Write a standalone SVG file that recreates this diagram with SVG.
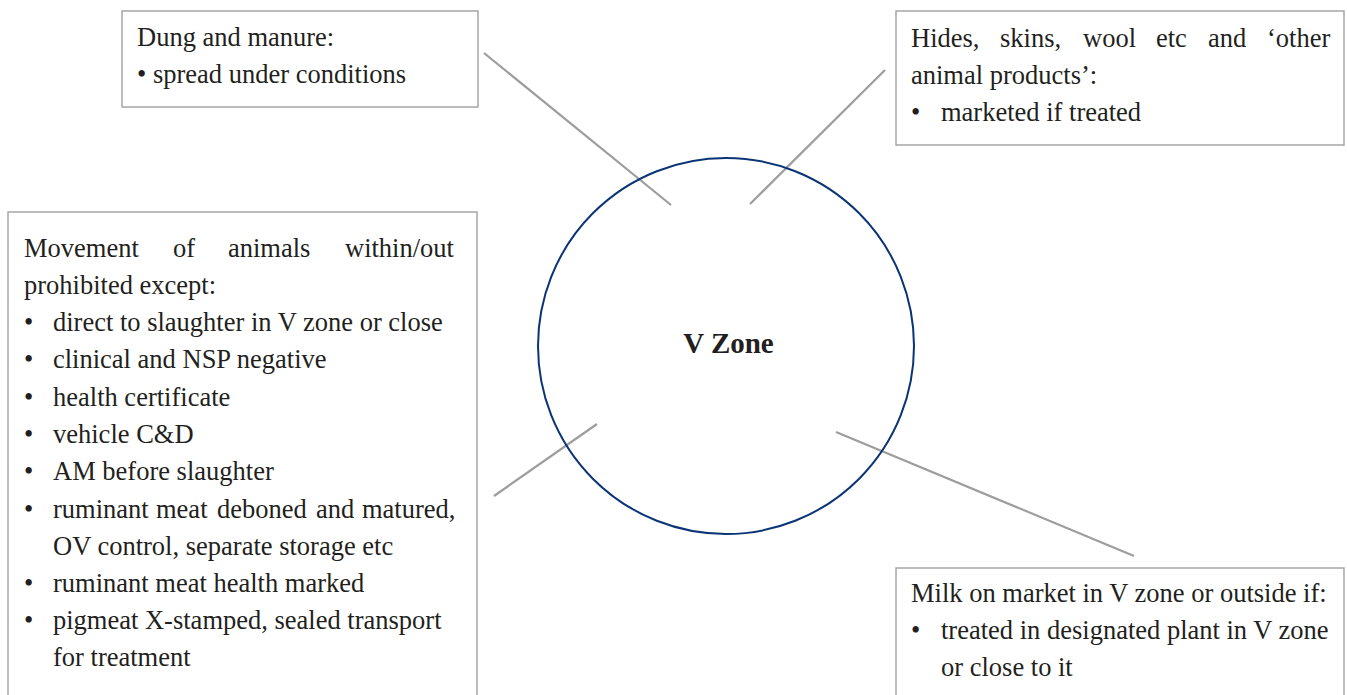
<svg xmlns="http://www.w3.org/2000/svg" width="1347" height="695" viewBox="0 0 1347 695">
<style>
.box{fill:#fff;stroke:#a6a6a6;stroke-width:1.5}
.t{font-family:"Liberation Serif","Times New Roman",serif;font-size:26.5px;fill:#231f20}
.b{font-family:"Liberation Serif","Times New Roman",serif;font-size:29px;font-weight:bold;fill:#231f20}
.c{stroke:#9d9d9d;stroke-width:2.2;fill:none}
</style>
<rect width="1347" height="695" fill="#fff"/>
<g id="connectors">
<line class="c" x1="484" y1="53" x2="671" y2="205"/>
<line class="c" x1="885" y1="70" x2="750" y2="204"/>
<line class="c" x1="597" y1="424" x2="494" y2="496"/>
<line class="c" x1="836" y1="432" x2="1134" y2="556"/>
</g>
<g id="vzone">
<circle cx="726" cy="346" r="188" fill="none" stroke="#0b3476" stroke-width="2"/>
<text class="b" x="728.5" y="353" text-anchor="middle">V Zone</text>
</g>
<g id="dung">
<rect class="box" x="122" y="11" width="356" height="96"/>
<text class="t" x="137" y="46">Dung and manure:</text>
<text class="t" x="137" y="83">• spread under conditions</text>
</g>
<g id="hides">
<rect class="box" x="896" y="11" width="448" height="134"/>
<text class="t" y="47"><tspan x="911">Hides,</tspan><tspan x="1000">skins,</tspan><tspan x="1083">wool</tspan><tspan x="1156">etc</tspan><tspan x="1208">and</tspan><tspan x="1267">‘other</tspan></text>
<text class="t" x="911" y="84">animal products’:</text>
<text class="t" y="121"><tspan x="911">•</tspan><tspan x="941">marketed if treated</tspan></text>
</g>
<g id="movement">
<rect class="box" x="8" y="212" width="469" height="490"/>
<text class="t" y="257"><tspan x="24">Movement</tspan><tspan x="173">of</tspan><tspan x="228">animals</tspan><tspan x="345">within/out</tspan></text>
<text class="t" x="24" y="294">prohibited except:</text>
<text class="t" y="331"><tspan x="24">•</tspan><tspan x="53">direct to slaughter in V zone or close</tspan></text>
<text class="t" y="368"><tspan x="24">•</tspan><tspan x="53">clinical and NSP negative</tspan></text>
<text class="t" y="406"><tspan x="24">•</tspan><tspan x="53">health certificate</tspan></text>
<text class="t" y="443"><tspan x="24">•</tspan><tspan x="53">vehicle C&amp;D</tspan></text>
<text class="t" y="480"><tspan x="24">•</tspan><tspan x="53">AM before slaughter</tspan></text>
<text class="t" y="518"><tspan x="24">•</tspan><tspan x="53">ruminant</tspan><tspan x="156">meat</tspan><tspan x="217">deboned</tspan><tspan x="316">and</tspan><tspan x="362">matured,</tspan></text>
<text class="t" x="53" y="555">OV control, separate storage etc</text>
<text class="t" y="592"><tspan x="24">•</tspan><tspan x="53">ruminant meat health marked</tspan></text>
<text class="t" y="629"><tspan x="24">•</tspan><tspan x="53">pigmeat X-stamped, sealed transport</tspan></text>
<text class="t" x="53" y="666">for treatment</text>
</g>
<g id="milk">
<rect class="box" x="896" y="568" width="448" height="134"/>
<text class="t" x="911" y="602">Milk on market in V zone or outside if:</text>
<text class="t" y="639"><tspan x="911">•</tspan><tspan x="941">treated in designated plant in V zone</tspan></text>
<text class="t" x="941" y="676">or close to it</text>
</g>
</svg>
